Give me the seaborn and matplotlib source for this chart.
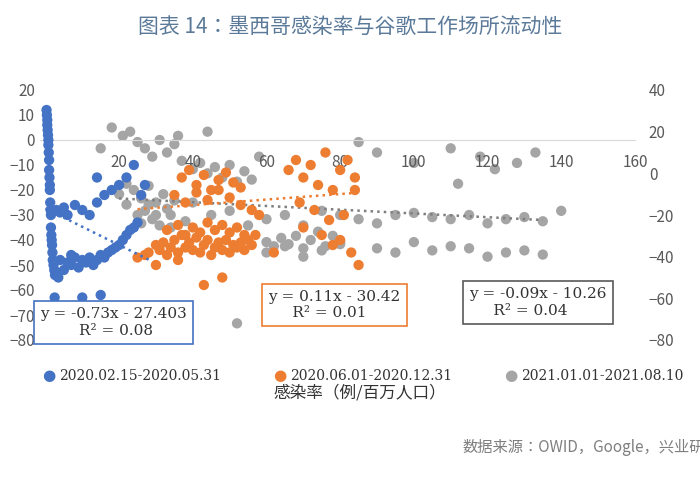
import numpy as np
import pandas as pd
import seaborn as sns
import matplotlib.pyplot as plt
from matplotlib import font_manager

names = {f.name for f in font_manager.fontManager.ttflist}
cjk = next((n for n in ['Noto Sans CJK SC', 'Noto Sans CJK JP', 'Noto Sans CJK TC', 'Noto Sans CJK KR'] if n in names), 'DejaVu Sans')
plt.rcParams['font.family'] = [cjk, 'DejaVu Sans']

# blue: 2020.02.15-2020.05.31 (left axis)
blue_x = [0.3, 0.4, 0.5, 0.5, 0.6, 0.7, 0.8, 0.8, 0.9, 1.0, 1.0, 1.1, 1.2, 1.2, 1.3, 1.4, 1.5, 1.5, 1.6, 1.7,
          1.8, 1.9, 2.0, 2.2, 2.4, 2.6, 3.0, 3.5, 2.5, 3, 4, 5, 6, 7, 8, 9, 10, 11, 12, 13, 14, 15, 16, 17, 18,
          19, 20, 21, 22, 23, 24, 25, 3, 5, 6, 8, 10, 12, 14, 16, 18, 20, 22, 24, 10, 15, 14, 26, 27, 4, 7]
blue_y = [12, 10, 8, 6, 4, 2, 0, -2, -5, -8, -12, -15, -18, -20, -25, -28, -30, -35, -38, -40,
          -42, -45, -48, -50, -52, -54, -53, -55, -63, -72, -48, -52, -49, -50, -47, -51, -48, -49, -47, -50, -48,
          -46, -47, -45, -44, -43, -42, -40, -38, -36, -35, -33, -28, -27, -30, -26, -28, -30, -25, -22, -20,
          -18, -15, -10, -63, -62, -15, -22, -18, -29, -46]

# orange: 2020.06.01-2020.12.31 (left axis)
orange_x = [25, 27, 28, 30, 31, 32, 33, 34, 35, 36, 37, 38, 39, 40, 41, 42, 43, 44, 45, 46, 47, 48, 49, 50,
            51, 52, 53, 54, 55, 56, 57, 33, 36, 38, 40, 42, 44, 46, 48, 50, 52, 54, 37, 39, 41, 43, 45, 47, 49,
            51, 53, 35, 38, 41, 44, 47, 50, 53, 56, 58, 66, 68, 70, 72, 74, 76, 78, 80, 82, 84, 70, 75, 78, 81,
            83, 69, 73, 77, 80, 84, 43, 30, 36, 48, 62, 85, 79]
orange_y = [-47, -46, -45, -42, -44, -41, -46, -43, -40, -45, -38, -43, -41, -44, -39, -45, -42, -40, -46, -43,
            -41, -44, -40, -45, -42, -43, -41, -44, -40, -42, -38, -36, -34, -38, -35, -37, -33, -36, -34, -37,
            -35, -38, -15, -12, -18, -14, -20, -16, -13, -17, -19, -22, -25, -21, -24, -20, -23, -26, -28, -30,
            -12, -8, -15, -10, -18, -5, -20, -12, -8, -15, -35, -38, -42, -30, -45, -25, -28, -32, -40, -20, -58,
            -50, -48, -55, -45, -50, -72]

# gray: 2021.01.01-2021.08.10 (right axis)
gray_x = [20, 22, 24, 25, 26, 27, 28, 29, 30, 31, 32, 33, 34, 35, 21, 23, 25, 27, 29, 31, 33, 35, 37, 22, 26,
          30, 34, 38, 40, 42, 44, 46, 48, 50, 52, 54, 56, 58, 60, 62, 64, 66, 68, 70, 72, 74, 76, 78, 80, 40, 45,
          50, 55, 60, 65, 70, 75, 80, 85, 90, 95, 100, 105, 110, 115, 120, 125, 130, 135, 60, 65, 70, 75, 80,
          90, 95, 100, 105, 110, 115, 120, 125, 130, 135, 85, 90, 100, 110, 118, 122, 128, 133, 28, 36, 44, 15,
          18, 112, 140, 52]
gray_y = [-10, -15, -8, -20, -12, -18, -6, -22, -14, -25, -10, -17, -20, -13, 18, 20, 15, 12, 8, 16, 10, 14,
          6, -5, -24, -20, -26, -23, 2, 5, 0, 3, -2, 4, -4, 1, -3, 8, -33, -35, -31, -34, -30, -36, -32, -28,
          -35, -30, -33, -14, -20, -18, -25, -22, -20, -25, -18, -20, -22, -24, -20, -19, -21, -22, -20, -24,
          -22, -21, -23, -38, -35, -40, -37, -34, -36, -38, -33, -37, -35, -36, -40, -38, -37, -39, 15, 10, 5,
          12, 8, 2, 5, 10, -15, 18, 20, 12, 22, -5, -18, -72]

fig = plt.figure(figsize=(7, 5), dpi=100)
ax = fig.add_axes([0.057, 0.32, 0.85, 0.50])
ax2 = ax.twinx()

blue_c, orange_c, gray_c = '#4472C4', '#ED7D31', '#A5A5A5'
sns.scatterplot(x=blue_x, y=blue_y, ax=ax, color=blue_c, s=55, edgecolor='none', zorder=3)
sns.scatterplot(x=orange_x, y=orange_y, ax=ax, color=orange_c, s=55, edgecolor='none', zorder=3)
sns.scatterplot(x=gray_x, y=gray_y, ax=ax2, color=gray_c, s=55, edgecolor='none', zorder=2)

# trend lines from the printed equations
xb = np.array([0, 28]); ax.plot(xb, -0.73 * xb - 27.403, ':', color=blue_c, lw=1.8, zorder=4)
xo = np.array([25, 85]); ax.plot(xo, 0.11 * xo - 30.42, ':', color=orange_c, lw=1.8, zorder=4)
xg = np.array([20, 135]); ax2.plot(xg, -0.09 * xg - 10.26, ':', color='#7F7F7F', lw=1.8, zorder=4)

ax.set_xlim(-1.5, 160); ax.set_ylim(-80, 20); ax2.set_ylim(-80, 40)
ax.set_xticks(range(20, 161, 20)); ax.set_yticks(range(-80, 21, 10)); ax2.set_yticks(range(-80, 41, 20))
for a in (ax, ax2):
    for s in a.spines.values():
        s.set_visible(False)
    a.tick_params(length=0, labelsize=11, colors='#595959')
ax2.tick_params(axis='y', pad=10)
ax.spines['bottom'].set_visible(True)
ax.spines['bottom'].set_position(('data', 0))
ax.spines['bottom'].set_color('#D9D9D9')
ax.tick_params(axis='x', pad=10)
ax.set_zorder(ax2.get_zorder() + 1); ax.patch.set_visible(False)

box = dict(boxstyle='square,pad=0.4', fc='white', lw=1.2)
ax.text(-1.5, -73, 'y = -0.73x - 27.403\n        R² = 0.08', fontsize=11, family='DejaVu Serif', color='#333333',
        bbox={**box, 'ec': blue_c}, va='center', zorder=5)
ax.text(60.5, -66, 'y = 0.11x - 30.42\n     R² = 0.01', fontsize=11, family='DejaVu Serif', color='#333333',
        bbox={**box, 'ec': orange_c}, va='center', zorder=5)
ax.text(115, -65, 'y = -0.09x - 10.26\n     R² = 0.04', fontsize=11, family='DejaVu Serif', color='#333333',
        bbox={**box, 'ec': '#595959'}, va='center', zorder=5)

fig.text(0.5, 0.935, '图表 14：墨西哥感染率与谷歌工作场所流动性', ha='center', fontsize=15, color='#5B7A99', family=cjk)
for xp, c, lab in [(0.06, blue_c, '2020.02.15-2020.05.31'), (0.39, orange_c, '2020.06.01-2020.12.31'),
                   (0.72, gray_c, '2021.01.01-2021.08.10')]:
    fig.text(xp, 0.248, '●', color=c, fontsize=11, va='center', family='DejaVu Sans')
    fig.text(xp + 0.025, 0.248, lab, color='#333333', fontsize=10, va='center', family='DejaVu Serif')
fig.text(0.39, 0.215, '感染率（例/百万人口）', fontsize=12, color='#333333', va='center', family=cjk)
fig.text(0.66, 0.095, '数据来源：OWID，Google，兴业研究', fontsize=11, color='#7F7F7F', family=cjk)
fig.savefig('out.png', dpi=100)
